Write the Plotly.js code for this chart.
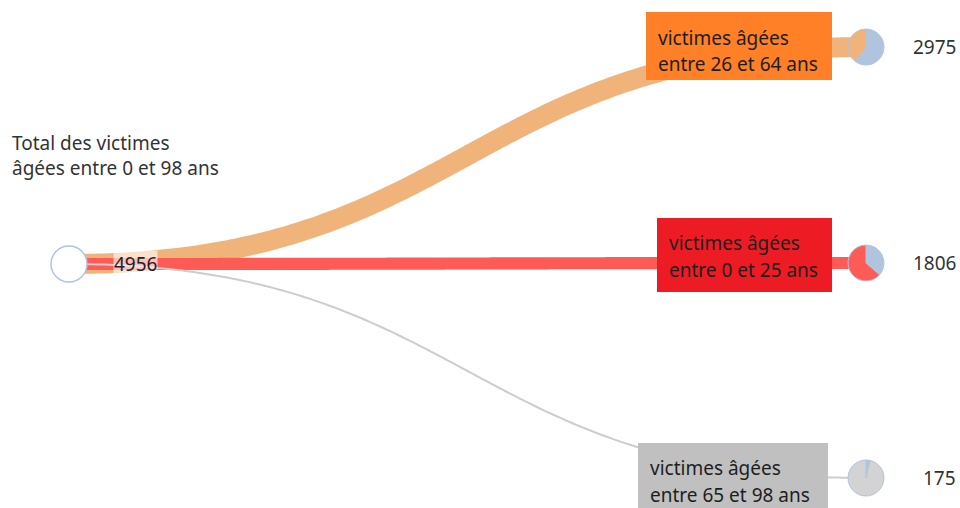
<!DOCTYPE html>
<html>
<head>
<meta charset="utf-8">
<script src="https://cdn.plot.ly/plotly-3.0.1.min.js"></script>
<style>html,body{margin:0;padding:0;background:#fff;}#chart{width:960px;height:508px;}</style>
</head>
<body>
<div id="chart"></div>
<script>
// ---- data ----
const rootLabel = ['Total des victimes', 'âgées entre 0 et 98 ans'];
const total = 4956;
const categories = [
  ['victimes âgées', 'entre 26 et 64 ans'],
  ['victimes âgées', 'entre 0 et 25 ans'],
  ['victimes âgées', 'entre 65 et 98 ans']
];
const values = [2975, 1806, 175];

// ---- layout / style ----
const W = 960, H = 508;
const root = {x: 69, y: 264, r: 18};
const childX = 866, childR = 18;
const childY = [47, 263, 478];
const boxes = [
  {x0: 646, x1: 832, y0: 12, y1: 80},
  {x0: 657, x1: 832, y0: 218, y1: 292},
  {x0: 638, x1: 828, y0: 443, y1: 512}
];
const linkColors = ['#f0b47b', '#ff5b56', '#cdcdcd'];
const boxColors = ['#ff8027', '#ed1c24', '#c0c0c0'];
const pieRest = ['#f0b47b', '#ff5b56', '#d3d3d3'];
const blue = '#b0c4de';
const FONT = 'Noto Sans, Open Sans, sans-serif';
const maxWidth = 20;

function bezier(x0, y0, x1, y1, n) {
  const cx = (x0 + x1) / 2, xs = [], ys = [];
  for (let i = 0; i <= n; i++) {
    const t = i / n, u = 1 - t;
    xs.push(u*u*u*x0 + 3*u*u*t*cx + 3*u*t*t*cx + t*t*t*x1);
    ys.push(u*u*u*y0 + 3*u*u*t*y0 + 3*u*t*t*y1 + t*t*t*y1);
  }
  return {xs, ys};
}

const traces = [];
values.forEach((v, i) => {
  const b = bezier(root.x, root.y, childX, childY[i], 200);
  traces.push({
    type: 'scatter', mode: 'lines', x: b.xs, y: b.ys,
    line: {color: linkColors[i], width: Math.max(2, v / values[0] * maxWidth), shape: 'linear', simplify: false},
    hoverinfo: 'skip', showlegend: false
  });
});
traces.push({
  type: 'scatter', mode: 'markers', x: [root.x], y: [root.y],
  marker: {size: root.r * 2, color: '#ffffff', line: {color: blue, width: 1.5}},
  hoverinfo: 'skip', showlegend: false
});
values.forEach((v, i) => {
  const cy = childY[i];
  traces.push({
    type: 'pie', values: [v, total - v], sort: false, direction: 'clockwise', rotation: 0,
    marker: {colors: [blue, pieRest[i]], line: {color: blue, width: 1}},
    textinfo: 'none', hoverinfo: 'skip', showlegend: false,
    domain: {x: [(childX - childR) / W, (childX + childR) / W], y: [1 - (cy + childR) / H, 1 - (cy - childR) / H]}
  });
});

const shapes = boxes.map((b, i) => ({
  type: 'rect', xref: 'x', yref: 'y', x0: b.x0, x1: b.x1, y0: b.y0, y1: b.y1,
  fillcolor: boxColors[i], line: {width: 0}, layer: 'above'
}));

const textY = [[38, 64], [243, 270], [468, 495]];
const annotations = [];
boxes.forEach((b, i) => {
  categories[i].forEach((line, k) => {
    annotations.push({
      xref: 'x', yref: 'y', x: b.x0 + 10, y: textY[i][k], text: line, showarrow: false,
      xanchor: 'left', yanchor: 'middle', font: {family: FONT, size: 19, color: '#1e1e1e'}
    });
  });
  annotations.push({
    xref: 'x', yref: 'y', x: 958, y: childY[i], text: String(values[i]), showarrow: false,
    xanchor: 'right', yanchor: 'middle', font: {family: FONT, size: 19, color: '#333333'}
  });
});
rootLabel.forEach((line, k) => {
  annotations.push({
    xref: 'x', yref: 'y', x: 10, y: 143 + 25 * k, text: line, showarrow: false,
    xanchor: 'left', yanchor: 'middle', font: {family: FONT, size: 19, color: '#333333'}
  });
});
annotations.push({
  xref: 'x', yref: 'y', x: 135, y: root.y, text: String(total), showarrow: false,
  xanchor: 'center', yanchor: 'middle', bgcolor: 'rgba(255,255,255,0.6)', borderpad: 0,
  font: {family: FONT, size: 19, color: '#222222'}
});

const layout = {
  width: W, height: H, margin: {l: 0, r: 0, t: 0, b: 0},
  paper_bgcolor: '#ffffff', plot_bgcolor: '#ffffff', showlegend: false,
  xaxis: {range: [0, W], visible: false, fixedrange: true},
  yaxis: {range: [H, 0], visible: false, fixedrange: true},
  shapes, annotations
};
Plotly.newPlot('chart', traces, layout, {displayModeBar: false, staticPlot: true});
</script>
</body>
</html>
